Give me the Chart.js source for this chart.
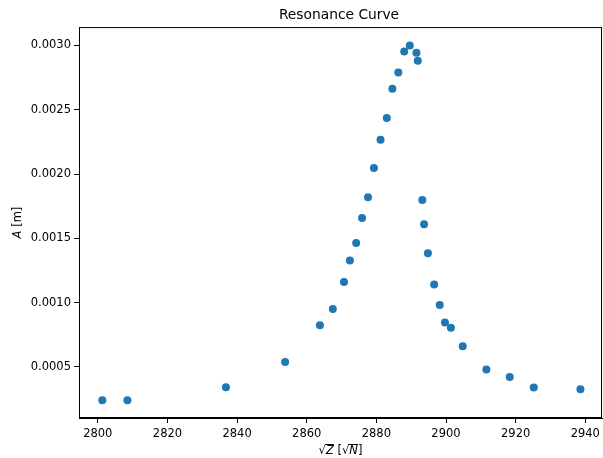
<!DOCTYPE html>
<html>
<head>
<meta charset="utf-8">
<script src="https://cdn.jsdelivr.net/npm/chart.js@4.4.1/dist/chart.umd.min.js"></script>
<style>
  html, body { margin: 0; padding: 0; background: #fff; }
  #chart { display: block; }
</style>
</head>
<body>
<canvas id="chart" width="603" height="458"></canvas>
<script>
// Frequenz (sqrt Z) und Amplitude A
const sqrtZ = [
  2801.3, 2808.5, 2836.8, 2853.8, 2863.8, 2867.5, 2870.7, 2872.4, 2874.2, 2875.9,
  2877.6, 2879.3, 2881.2, 2883.0, 2884.6, 2886.3, 2888.0, 2889.6, 2891.5, 2891.9,
  2893.2, 2893.7, 2894.8, 2896.6, 2898.2, 2899.7, 2901.4, 2904.8, 2911.6, 2918.3,
  2925.2, 2938.6
];
const amplitude = [
  0.000241, 0.000241, 0.000342, 0.000539, 0.000825, 0.000950, 0.001160, 0.001327, 0.001463, 0.001659,
  0.001819, 0.002047, 0.002266, 0.002435, 0.002663, 0.002790, 0.002953, 0.003000, 0.002943, 0.002881,
  0.001798, 0.001609, 0.001385, 0.001142, 0.000981, 0.000846, 0.000804, 0.000661, 0.000480, 0.000422,
  0.000340, 0.000326
];
const xTicks = [2800, 2820, 2840, 2860, 2880, 2900, 2920, 2940];
const yTicks = [0.0005, 0.0010, 0.0015, 0.0020, 0.0025, 0.0030];

const FONT = "'DejaVu Sans', sans-serif";
const AREA_RIGHT = 602;

// Chart.js lässt rechts ein paar Pixel frei, Achsenfläche bis AREA_RIGHT ziehen
const stretchRight = {
  id: 'stretchRight',
  afterLayout(chart) {
    const a = chart.chartArea;
    a.right = AREA_RIGHT;
    a.width = a.right - a.left;
    const x = chart.scales.x;
    x.right = AREA_RIGHT;
    x.width = x.right - x.left;
    x._labelItems = null;
    x._gridLineItems = null;
    x.configure();
  }
};

// Rahmen um die Achsen und Achsenbeschriftungen (mit kursiven Buchstaben)
const frameAndLabels = {
  id: 'frameAndLabels',
  afterDraw(chart) {
    const { ctx, chartArea: a } = chart;
    ctx.save();
    ctx.strokeStyle = '#000';
    ctx.lineWidth = 1;
    ctx.strokeRect(a.left + 0.5, a.top + 0.5, a.right - a.left - 1, a.bottom - a.top - 1);

    ctx.fillStyle = '#000';
    ctx.textBaseline = 'alphabetic';
    // x-Achse: sqrt(Z) [sqrt(N)]
    const parts = [
      ['√', '11.5px ' + FONT],
      ['Z', 'italic 11.5px ' + FONT],
      [' [', '11.5px ' + FONT],
      ['√', '11.5px ' + FONT],
      ['N', 'italic 11.5px ' + FONT],
      [']', '11.5px ' + FONT]
    ];
    let w = 0;
    parts.forEach(p => { ctx.font = p[1]; w += ctx.measureText(p[0]).width; });
    let x = (a.left + a.right) / 2 - w / 2;
    const yb = 454;
    parts.forEach(p => {
      ctx.font = p[1];
      const pw = ctx.measureText(p[0]).width;
      ctx.fillText(p[0], x, yb);
      if (p[0] === 'Z' || p[0] === 'N') {
        // Wurzelstrich
        ctx.fillRect(x - 1, yb - 10, pw + 1, 1);
      }
      x += pw;
    });

    // y-Achse: A [m]
    ctx.translate(21, (a.top + a.bottom) / 2);
    ctx.rotate(-Math.PI / 2);
    const yp = [['A', 'italic 11.5px ' + FONT], [' [m]', '11.5px ' + FONT]];
    w = 0;
    yp.forEach(p => { ctx.font = p[1]; w += ctx.measureText(p[0]).width; });
    x = -w / 2;
    yp.forEach(p => {
      ctx.font = p[1];
      ctx.fillText(p[0], x, 0);
      x += ctx.measureText(p[0]).width;
    });
    ctx.restore();
  }
};

new Chart(document.getElementById('chart'), {
  type: 'scatter',
  data: {
    datasets: [{
      data: sqrtZ.map((z, i) => ({ x: z, y: amplitude[i] })),
      backgroundColor: '#1f77b4',
      borderWidth: 0,
      pointRadius: 4,
      pointHoverRadius: 4
    }]
  },
  options: {
    responsive: false,
    devicePixelRatio: 1,
    animation: false,
    layout: { padding: { left: 0, right: 1, top: 0, bottom: 0 } },
    plugins: {
      legend: { display: false },
      tooltip: { enabled: false },
      title: {
        display: true,
        text: 'Resonance Curve',
        fullSize: false,
        color: '#000',
        font: { family: FONT, size: 13.8, weight: 'normal', lineHeight: 1.2 },
        padding: { top: 7, bottom: 3.5 }
      }
    },
    scales: {
      x: {
        type: 'linear',
        min: 2794.6,
        max: 2944.8,
        afterBuildTicks: s => { s.ticks = xTicks.map(v => ({ value: v })); },
        afterFit: s => { s.height = 40; },
        grid: { display: true, drawOnChartArea: false, drawTicks: true, tickLength: 5, color: '#000' },
        border: { display: true, color: '#000' },
        ticks: {
          color: '#000',
          padding: 4,
          maxRotation: 0,
          font: { family: FONT, size: 11.5 },
          callback: v => String(v)
        }
      },
      y: {
        type: 'linear',
        min: 0.000103,
        max: 0.003143,
        afterBuildTicks: s => { s.ticks = yTicks.map(v => ({ value: v })); },
        afterFit: s => { s.width = 79; },
        grid: { display: true, drawOnChartArea: false, drawTicks: true, tickLength: 5, color: '#000' },
        border: { display: true, color: '#000' },
        ticks: {
          color: '#000',
          padding: 3,
          font: { family: FONT, size: 11.5 },
          callback: v => v.toFixed(4)
        }
      }
    }
  },
  plugins: [stretchRight, frameAndLabels]
});
</script>
</body>
</html>
